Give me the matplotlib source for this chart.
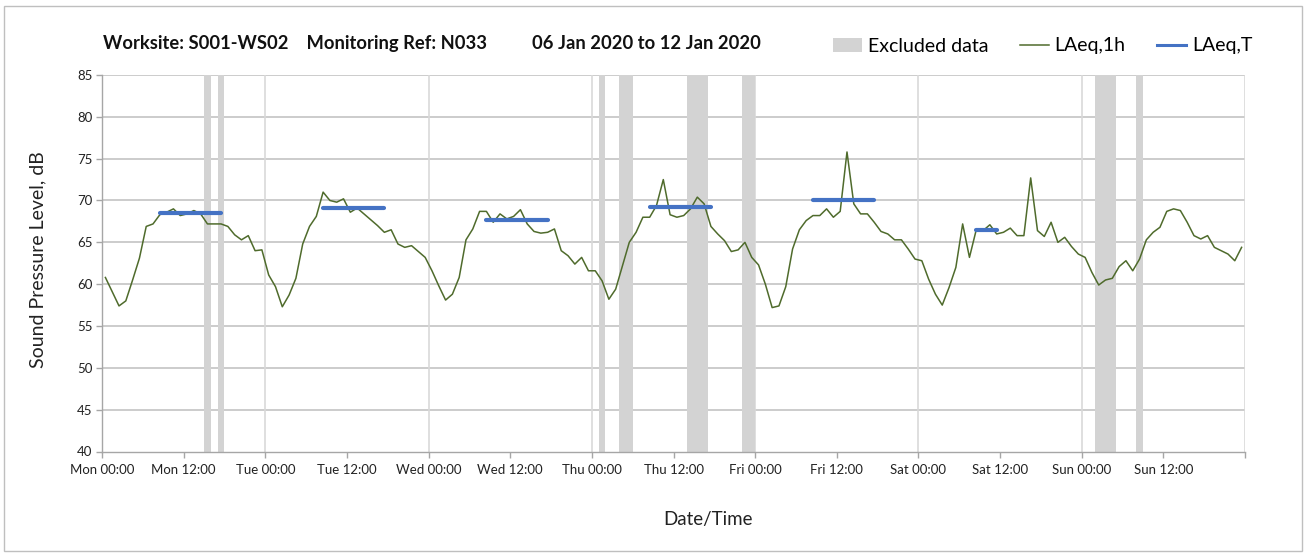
import numpy as np
import matplotlib
matplotlib.use('Agg')
import matplotlib.pyplot as plt
from matplotlib.patches import Patch, Rectangle
from matplotlib.lines import Line2D

plt.rcParams['font.family'] = ['Lato', 'DejaVu Sans']

# Hourly LAeq,1h values, Mon 00:00 -> Sun 23:00 (one value per hour)
laeq_1h = [
    60.8, 59.1, 57.4, 58.0, 60.5, 63.1, 66.9, 67.2, 68.3, 68.6, 69.0, 68.2,
    68.4, 68.8, 68.4, 67.2, 67.2, 67.2, 66.9, 65.9, 65.3, 65.8, 64.0, 64.1,
    61.1, 59.7, 57.3, 58.7, 60.7, 64.8, 66.9, 68.1, 71.0, 70.0, 69.8, 70.2,
    68.6, 69.1, 68.4, 67.7, 67.0, 66.2, 66.5, 64.8, 64.4, 64.6, 63.9, 63.2,
    61.6, 59.8, 58.1, 58.8, 60.8, 65.3, 66.6, 68.7, 68.7, 67.4, 68.4, 67.8,
    68.1, 68.9, 67.2, 66.3, 66.1, 66.2, 66.6, 64.0, 63.4, 62.4, 63.2, 61.6,
    61.6, 60.4, 58.2, 59.4, 62.2, 65.0, 66.2, 68.0, 68.0, 69.4, 72.5, 68.3,
    68.0, 68.2, 69.0, 70.4, 69.6, 66.9, 66.0, 65.2, 63.9, 64.1, 65.0, 63.2,
    62.3, 60.0, 57.2, 57.4, 59.7, 64.2, 66.5, 67.6, 68.2, 68.2, 69.0, 68.0,
    68.7, 75.8, 69.6, 68.4, 68.4, 67.4, 66.3, 66.0, 65.3, 65.3, 64.2, 63.0,
    62.8, 60.6, 58.8, 57.5, 59.6, 62.0, 67.2, 63.2, 66.5, 66.4, 67.1, 66.0,
    66.2, 66.7, 65.8, 65.8, 72.7, 66.4, 65.7, 67.4, 65.0, 65.6, 64.5, 63.6,
    63.2, 61.4, 59.9, 60.5, 60.7, 62.1, 62.8, 61.6, 63.0, 65.3, 66.2, 66.8,
    68.7, 69.0, 68.8, 67.4, 65.8, 65.4, 65.8, 64.4, 64.0, 63.6, 62.8, 64.4,
]

# LAeq,T per day: day index, first hour, last hour, level
laeqT_day = [0, 1, 2, 3, 4, 5]
laeqT_start = [8, 8, 8, 8, 8, 8]
laeqT_end = [17, 17, 17, 17, 17, 11]
laeqT_level = [68.5, 69.1, 67.7, 69.2, 70.1, 66.5]

# hours (from Mon 00:00) flagged as excluded
excluded_hours = [15, 17, 73, 76, 77, 86, 87, 88, 94, 95, 146, 147, 148, 152]

days = ['Mon', 'Tue', 'Wed', 'Thu', 'Fri', 'Sat', 'Sun']

W, H = 1309, 557
fig = plt.figure(figsize=(W / 100, H / 100), dpi=100)
ax = fig.add_axes([102 / W, 1 - 451.5 / H, (1245 - 102) / W, (451.5 - 75) / H])

# excluded data columns
ax.bar(excluded_hours, [45] * len(excluded_hours), width=1, bottom=40,
       align='edge', color='#D3D3D3', zorder=1)

# hourly line, plotted at the middle of each hour
hours = np.arange(len(laeq_1h)) + 0.5
ax.plot(hours, laeq_1h, color='#4F6B2C', lw=1.1, zorder=3)

for d, s, e, v in zip(laeqT_day, laeqT_start, laeqT_end, laeqT_level):
    ax.plot([d * 24 + s + 0.5, d * 24 + e + 0.5], [v, v], color='#4472C4',
            lw=3, solid_capstyle='round', zorder=4)

ax.set_xlim(0, 168)
ax.set_ylim(40, 85)
ax.set_yticks(range(40, 86, 5))
ax.set_xticks(range(0, 169, 12))
xlabels = [f'{days[i // 2]} {"00:00" if i % 2 == 0 else "12:00"}' for i in range(14)] + ['']
ax.set_xticklabels(xlabels)

# gridlines: horizontal every 5 dB, vertical at midnight only
for y in range(45, 86, 5):
    ax.axhline(y, color='#C4C4C4', lw=1.2, zorder=0)
for x in range(24, 169, 24):
    ax.axvline(x, color='#D9D9D9', lw=1.2, zorder=0)

for sp in ['top', 'right']:
    ax.spines[sp].set_visible(False)
for sp in ['left', 'bottom']:
    ax.spines[sp].set_color('#A6A6A6')
    ax.spines[sp].set_linewidth(1.0)
ax.tick_params(axis='both', colors='#A6A6A6', length=4, width=1.0,
               labelsize=9.5, labelcolor='#222222')
ax.tick_params(axis='y', pad=3)
ax.tick_params(axis='x', pad=5)

ax.set_ylabel('Sound Pressure Level, dB', fontsize=14, color='#222222')
ax.yaxis.set_label_coords(-56 / 1143, 0.51)
ax.set_xlabel('Date/Time', fontsize=13.5, color='#222222')
ax.xaxis.set_label_coords((708 - 102) / 1143, -60 / 376.5)

fig.text(103 / W, 1 - 44 / H,
         'Worksite: S001-WS02    Monitoring Ref: N033          06 Jan 2020 to 12 Jan 2020',
         fontsize=13.2, fontweight='bold', color='#111111', ha='left', va='center')

handles = [Patch(facecolor='#D3D3D3', edgecolor='none', label='Excluded data'),
           Line2D([], [], color='#4F6B2C', lw=1.1, label='LAeq,1h'),
           Line2D([], [], color='#4472C4', lw=2.2, label='LAeq,T')]
fig.legend(handles=handles, loc='center right', bbox_to_anchor=(1260 / W, 1 - 46 / H),
           ncol=3, frameon=False, fontsize=14, handlelength=1.5, handletextpad=0.3,
           columnspacing=1.6, borderaxespad=0)

# chart area border
fig.patches.append(Rectangle((4 / W, 6 / H), 1298 / W, 545 / H, transform=fig.transFigure,
                             fill=False, edgecolor='#BFBFBF', lw=1.0))

fig.savefig('out.png', dpi=100)
